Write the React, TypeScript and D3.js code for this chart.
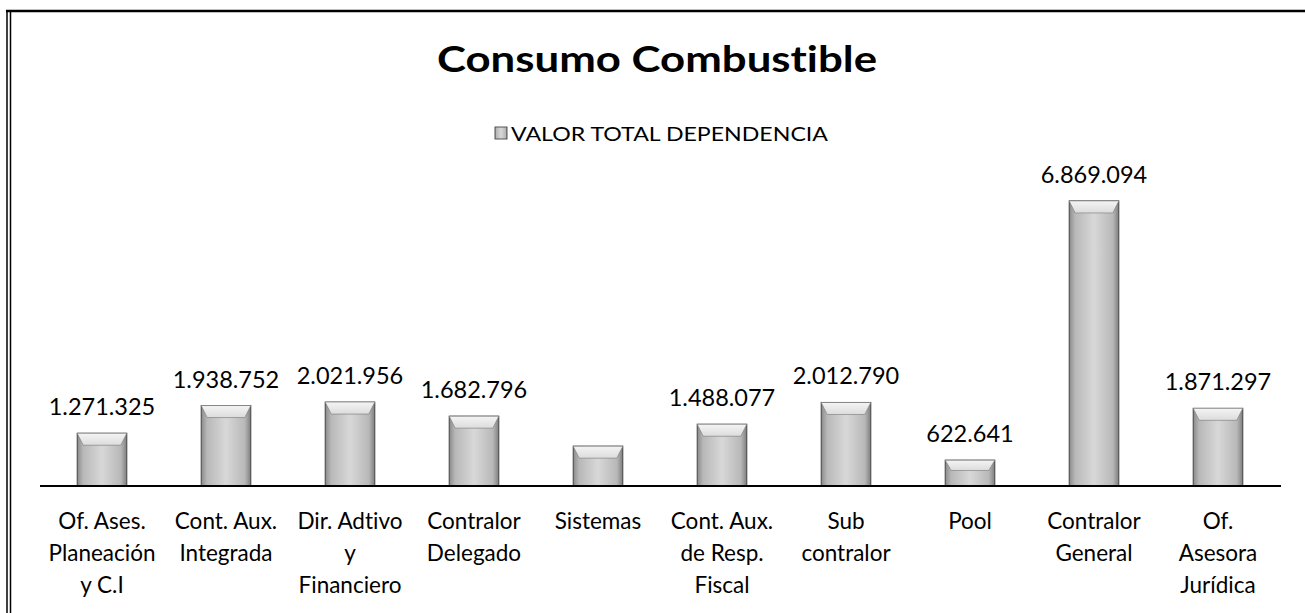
import React from "react";
import * as d3 from "d3";

const title = "Consumo Combustible";
const seriesName = "VALOR TOTAL DEPENDENCIA";
const categories = [
  "Of. Ases.\nPlaneación\ny C.I",
  "Cont. Aux.\nIntegrada",
  "Dir. Adtivo\ny\nFinanciero",
  "Contralor\nDelegado",
  "Sistemas",
  "Cont. Aux.\nde Resp.\nFiscal",
  "Sub\ncontralor",
  "Pool",
  "Contralor\nGeneral",
  "Of.\nAsesora\nJurídica",
];
const values = [1271325, 1938752, 2021956, 1682796, 960000, 1488077, 2012790, 622641, 6869094, 1871297];
const showLabel = [true, true, true, true, false, true, true, true, true, true];

const W = 1305;
const H = 613;
const FONT = "Lato, 'Open Sans', sans-serif";

const fmt = (v: number) => d3.format(",")(v).replace(/,/g, ".");

export default function App() {
  const x = d3
    .scaleBand<string>()
    .domain(categories)
    .range([40, 1280])
    .paddingInner(0.6)
    .paddingOuter(0.3);
  const y = d3.scaleLinear().domain([0, 8000000]).range([486, 154]);
  const bw = x.bandwidth();

  return (
    <svg
      width={W}
      height={H}
      style={{ position: "absolute", left: 0, top: 0, background: "#fff", fontVariantLigatures: "none" }}
      fontFamily={FONT}
    >
      <defs>
        <linearGradient id="barGrad" x1="0" x2="1" y1="0" y2="0">
          <stop offset="0" stopColor="#8a8a8a" />
          <stop offset="0.12" stopColor="#b8b8b8" />
          <stop offset="0.5" stopColor="#d8d8d8" />
          <stop offset="0.88" stopColor="#b8b8b8" />
          <stop offset="1" stopColor="#7e7e7e" />
        </linearGradient>
        <linearGradient id="topGrad" x1="0" x2="0" y1="0" y2="1">
          <stop offset="0" stopColor="#f4f4f4" />
          <stop offset="1" stopColor="#dcdcdc" />
        </linearGradient>
      </defs>
      <rect x={0} y={0} width={W} height={H} fill="#fff" />
      <line x1={6} x2={W} y1={11} y2={11} stroke="#000" strokeWidth={2.5} />
      <line x1={7} x2={7} y1={10} y2={H} stroke="#000" strokeWidth={1.5} />
      <line x1={10.5} x2={10.5} y1={10} y2={H} stroke="#000" strokeWidth={1.5} />

      <text
        x={437}
        y={72}
        fontSize={36}
        fontWeight={700}
        fill="#000"
        textLength={440}
        lengthAdjust="spacingAndGlyphs"
      >
        {title}
      </text>

      <rect x={495} y={127} width={12} height={12} fill="url(#barGrad)" stroke="#555" strokeWidth={1} />
      <text x={511} y={141} fontSize={19.5} fill="#000" textLength={317} lengthAdjust="spacingAndGlyphs">
        {seriesName}
      </text>

      {categories.map((c, i) => {
        const x0 = x(c)!;
        const v = values[i];
        const yt = y(v);
        const y0 = y(0);
        const h = y0 - yt;
        const bev = Math.min(12, h * 0.4);
        return (
          <g key={c}>
            <rect x={x0} y={yt} width={bw} height={h} fill="url(#barGrad)" stroke="#444" strokeWidth={1} />
            <polygon
              points={`${x0},${yt} ${x0 + bw},${yt} ${x0 + bw - 6},${yt + bev} ${x0 + 6},${yt + bev}`}
              fill="url(#topGrad)"
              stroke="#777"
              strokeWidth={0.6}
            />
            {showLabel[i] && (
              <text x={x0 + bw / 2} y={yt - 18} textAnchor="middle" fontSize={23.5} fill="#000">
                {fmt(v)}
              </text>
            )}
            {c.split("\n").map((line, j) => (
              <text key={j} x={x0 + bw / 2} y={529 + j * 32} textAnchor="middle" fontSize={22.5} fill="#000">
                {line}
              </text>
            ))}
          </g>
        );
      })}
      <line x1={40} x2={1281} y1={y(0)} y2={y(0)} stroke="#000" strokeWidth={2} />
    </svg>
  );
}
